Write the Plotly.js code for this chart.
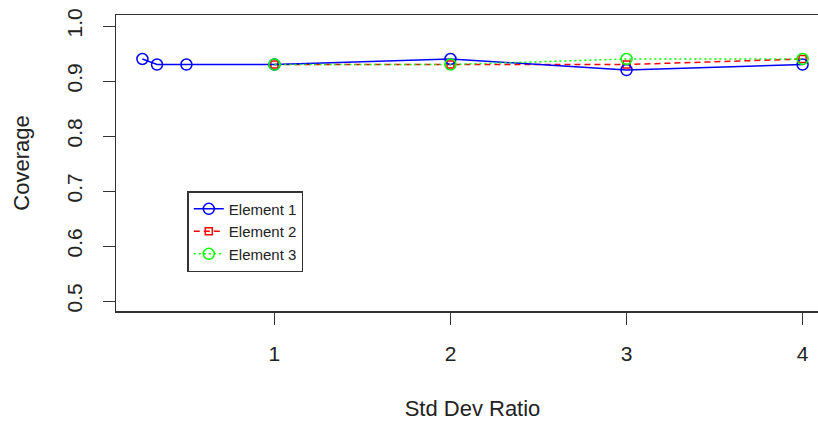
<!DOCTYPE html>
<html>
<head>
<meta charset="utf-8">
<script src="https://cdn.plot.ly/plotly-3.0.1.min.js"></script>
<style>
html,body{margin:0;padding:0;overflow:hidden;background:#fff;}
#chart{width:840px;height:421px;}
</style>
</head>
<body>
<div id="chart"></div>
<script>
var x1 = [0.25, 0.333, 0.5, 1, 2, 3, 4];
var y1 = [0.94, 0.93, 0.93, 0.93, 0.94, 0.92, 0.93];
var x2 = [1, 2, 3, 4];
var y2 = [0.93, 0.93, 0.93, 0.94];
var x3 = [1, 2, 3, 4];
var y3 = [0.93, 0.93, 0.94, 0.94];
var names = ["Element 1", "Element 2", "Element 3"];
var xTicks = [1, 2, 3, 4];
var yTicks = [0.5, 0.6, 0.7, 0.8, 0.9, 1.0];
var yTickText = ["0.5", "0.6", "0.7", "0.8", "0.9", "1.0"];

var font = "Liberation Sans, Arial, sans-serif";

var traces = [
  {x: x2, y: y2, name: names[1], mode: "lines+markers", legendrank: 2,
   line: {color: "#FF0000", width: 1.5, dash: "6px,4px"},
   marker: {symbol: "square-open", size: 7, color: "#FF0000", line: {width: 1.5}}},
  {x: x1, y: y1, name: names[0], mode: "lines+markers", legendrank: 1,
   line: {color: "#0000FF", width: 1.5},
   marker: {symbol: "circle-open", size: 11, color: "#0000FF", line: {width: 1.5}}},
  {x: x3, y: y3, name: names[2], mode: "lines+markers", legendrank: 3,
   line: {color: "#00FF00", width: 1.5, dash: "2px,3px"},
   marker: {symbol: "circle-open", size: 11, color: "#00FF00", line: {width: 1.5}}}
];

var layout = {
  width: 840, height: 421,
  margin: {l: 116, r: 11, t: 15, b: 110},
  paper_bgcolor: "#fff", plot_bgcolor: "#fff",
  font: {family: font, size: 21, color: "#222"},
  showlegend: true,
  legend: {
    x: 0.1, y: 0.405, xanchor: "left", yanchor: "top",
    bgcolor: "#fff", bordercolor: "#333", borderwidth: 1.5,
    font: {family: font, size: 15, color: "#222"},
    tracegroupgap: 0, itemwidth: 30
  },
  xaxis: {
    range: [0.1, 4.15], tickvals: xTicks, ticktext: xTicks.map(String),
    ticks: "outside", ticklen: 12, tickwidth: 1, tickcolor: "#333",
    showline: true, mirror: true, linecolor: "#333", linewidth: 1.5,
    showgrid: false, zeroline: false,
    tickfont: {size: 21, color: "#222"}, ticklabelstandoff: 11,
    title: {text: "Std Dev Ratio", font: {size: 22, color: "#222"}, standoff: 37}
  },
  yaxis: {
    range: [0.482, 1.02], tickvals: yTicks, ticktext: yTickText, tickangle: -90,
    ticks: "outside", ticklen: 12, tickwidth: 1, tickcolor: "#333",
    showline: true, mirror: true, linecolor: "#333", linewidth: 1.5,
    showgrid: false, zeroline: false,
    tickfont: {size: 21, color: "#222"}, ticklabelstandoff: 12,
    title: {text: "Coverage", font: {size: 22, color: "#222"}, standoff: 27}
  }
};

Plotly.newPlot("chart", traces, layout, {staticPlot: true, displayModeBar: false});
</script>
</body>
</html>
